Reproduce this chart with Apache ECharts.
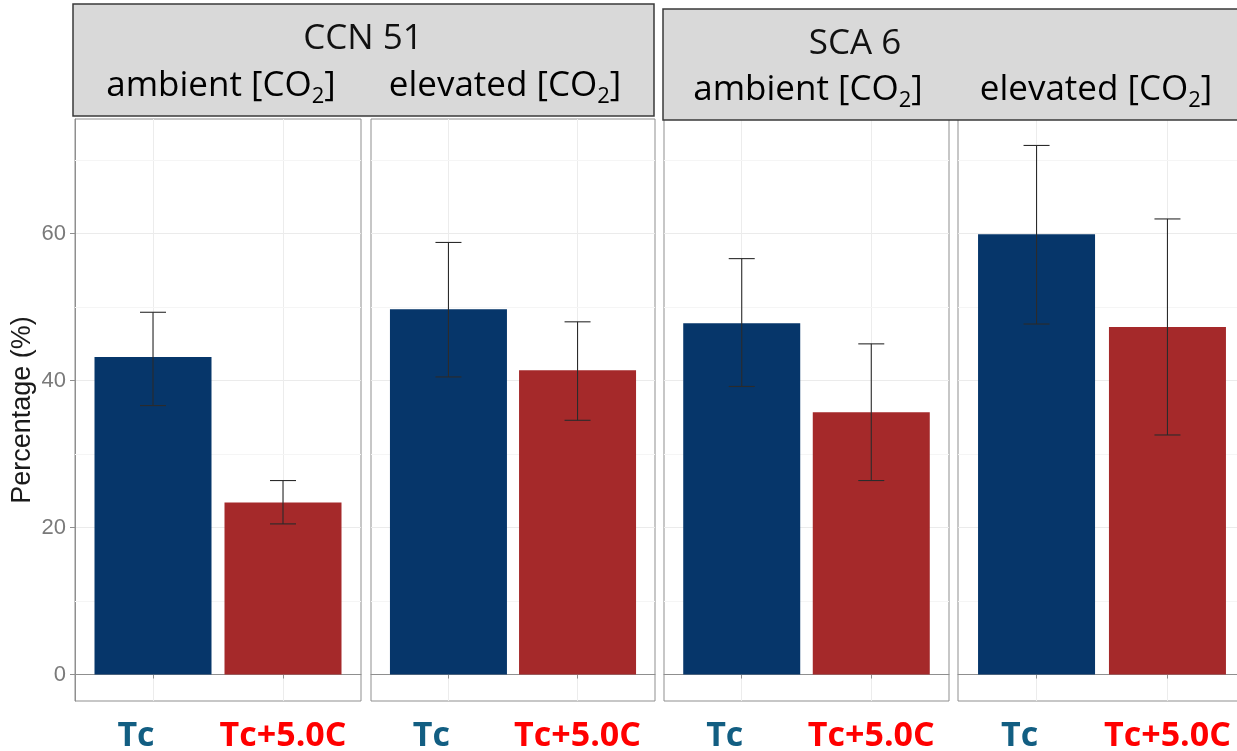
<!DOCTYPE html>
<html>
<head>
<meta charset="utf-8">
<script src="https://cdn.jsdelivr.net/npm/echarts@6/dist/echarts.min.js"></script>
<style>
  html, body { margin: 0; padding: 0; background: #fff; }
  #chart { width: 1237px; height: 751px; }
</style>
</head>
<body>
<div id="chart"></div>
<script>
// facets: cultivar x CO2 level, two temperature treatments in each
const cultivars = ["CCN 51", "SCA 6"];
const co2Levels = ["ambient", "elevated"];
const treatments = ["Tc", "Tc+5.0C"];

// panel order: CCN51 ambient, CCN51 elevated, SCA6 ambient, SCA6 elevated
const tcMean = [43.2, 49.7, 47.8, 59.9];
const tcLow = [36.6, 40.5, 39.2, 47.7];
const tcHigh = [49.3, 58.8, 56.6, 72.0];
const warmMean = [23.4, 41.4, 35.7, 47.3];
const warmLow = [20.5, 34.6, 26.4, 32.6];
const warmHigh = [26.4, 48.0, 45.0, 62.0];

const yTicks = [0, 20, 40, 60];
const yMinorTicks = [10, 30, 50, 70];

const BLUE = "#06366a";
const RED = "#a5292a";
const gridBoxes = [
  { left: 75, width: 286 },
  { left: 371, width: 284 },
  { left: 664, width: 285 },
  { left: 958, width: 288 }
];

const chart = echarts.init(document.getElementById("chart"));

const grids = [];
const xAxes = [];
const yAxes = [];
const series = [];

gridBoxes.forEach((g, i) => {
  grids.push({
    left: g.left, width: g.width, top: 119, bottom: 50,
    outerBoundsMode: "none", containLabel: false,
    show: true, borderColor: "#8f8f8f", borderWidth: 1, backgroundColor: "#fff"
  });
  xAxes.push({
    gridIndex: i, type: "value", min: 0.4, max: 2.6,
    axisLine: { show: true, lineStyle: { color: "#8f8f8f" } },
    axisTick: { show: true, customValues: [1, 2], length: 4, lineStyle: { color: "#8f8f8f" } },
    splitLine: { show: true, lineStyle: { color: "#ececec", width: 1 } },
    axisLabel: {
      show: true, customValues: [1, 2], margin: 16,
      formatter: v => v === 1 ? "{tc|" + treatments[0] + "}" : "{warm|" + treatments[1] + "}",
      rich: {
        tc: { color: "#125e82", fontSize: 34, fontWeight: "bold", fontFamily: "Open Sans", padding: [0, 34, 0, 0], lineHeight: 38 },
        warm: { color: "#ff0000", fontSize: 34, fontWeight: "bold", fontFamily: "Open Sans", lineHeight: 38 }
      }
    }
  });
  yAxes.push({
    gridIndex: i, type: "value", min: -3.6, max: 75.6,
    name: i === 0 ? "Percentage (%)" : "",
    nameLocation: "middle", nameRotate: 90, nameGap: 39,
    nameTextStyle: { fontFamily: "Liberation Sans", fontSize: 27, color: "#1a1a1a" },
    axisLine: { show: i === 0, lineStyle: { color: "#8f8f8f" } },
    axisTick: { show: i === 0, customValues: yTicks, length: 5, lineStyle: { color: "#8f8f8f" } },
    splitLine: { show: true, lineStyle: { color: "#ebebeb", width: 1 } },
    axisLabel: {
      show: i === 0, customValues: yTicks, margin: 9,
      fontFamily: "Liberation Sans", fontSize: 22, color: "#7a7a7a"
    }
  });
  series.push({
    type: "bar", xAxisIndex: i, yAxisIndex: i, barWidth: 117, z: 3,
    data: [
      { value: [1, tcMean[i]], itemStyle: { color: BLUE } },
      { value: [2, warmMean[i]], itemStyle: { color: RED } }
    ],
    markLine: {
      silent: true, symbol: "none", label: { show: false }, z: 1,
      lineStyle: { color: "#f5f5f5", type: "solid", width: 1 },
      data: yMinorTicks.map(v => ({ yAxis: v }))
    }
  });
  series.push({
    type: "custom", xAxisIndex: i, yAxisIndex: i, z: 5,
    data: [[1, tcLow[i], tcHigh[i]], [2, warmLow[i], warmHigh[i]]],
    renderItem: (params, api) => {
      const lo = api.coord([api.value(0), api.value(1)]);
      const hi = api.coord([api.value(0), api.value(2)]);
      const cap = 13;
      const style = { stroke: "#2b2b2b", lineWidth: 1.1 };
      return {
        type: "group",
        children: [
          { type: "line", shape: { x1: lo[0], y1: lo[1], x2: hi[0], y2: hi[1] }, style },
          { type: "line", shape: { x1: hi[0] - cap, y1: hi[1], x2: hi[0] + cap, y2: hi[1] }, style },
          { type: "line", shape: { x1: lo[0] - cap, y1: lo[1], x2: lo[0] + cap, y2: lo[1] }, style }
        ]
      };
    }
  });
});

const headFont = { fontFamily: "Open Sans", fontSize: 35, fill: "#111" };
const co2Rich = {
  m: { fontFamily: "Open Sans", fontSize: 35, color: "#111", lineHeight: 44 },
  s: { fontFamily: "Open Sans", fontSize: 22, color: "#111", lineHeight: 22, verticalAlign: "bottom" }
};
function co2Label(level) {
  return "{m|" + level + " [CO}{s|2}{m|]}";
}

function header(x, y, w, h, cx, cy, subPos, name) {
  return [
    { type: "rect", shape: { x, y, width: w, height: h }, style: { fill: "#d9d9d9", stroke: "#3a3a3a", lineWidth: 1.5 }, z: 10 },
    { type: "text", x: cx, y: cy, style: Object.assign({ text: name, align: "center", verticalAlign: "middle" }, headFont), z: 11 },
    { type: "text", x: subPos[0], y: subPos[2], style: { text: co2Label(co2Levels[0]), rich: co2Rich, align: "center", verticalAlign: "middle" }, z: 11 },
    { type: "text", x: subPos[1], y: subPos[2], style: { text: co2Label(co2Levels[1]), rich: co2Rich, align: "center", verticalAlign: "middle" }, z: 11 }
  ];
}

chart.setOption({
  animation: false,
  backgroundColor: "#fff",
  grid: grids,
  xAxis: xAxes,
  yAxis: yAxes,
  series,
  graphic: [
    ...header(73, 4, 581, 112, 363, 39, [221, 505, 86], cultivars[0]),
    ...header(663, 9, 582, 111, 855, 44, [808, 1096, 90], cultivars[1])
  ]
});
</script>
</body>
</html>
